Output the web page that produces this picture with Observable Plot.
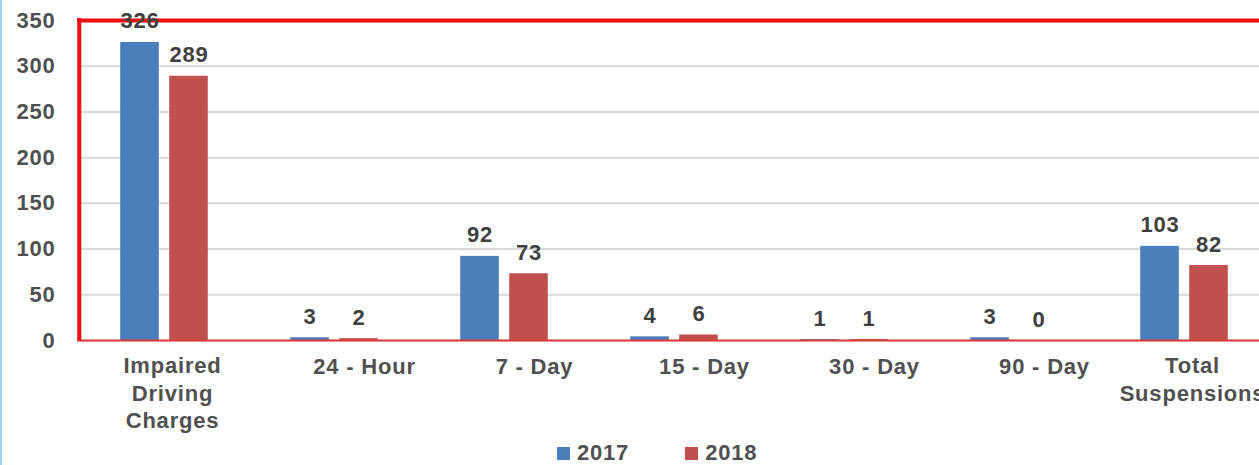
<!DOCTYPE html>
<html>
<head>
<meta charset="utf-8">
<script src="https://cdn.jsdelivr.net/npm/d3@7"></script>
<script src="https://cdn.jsdelivr.net/npm/@observablehq/plot@0.6"></script>
<style>
  html, body { margin: 0; padding: 0; background: #fff; }
  #wrap { position: relative; width: 1259px; height: 465px; overflow: hidden; }
  #edge { position: absolute; left: 0; top: 0; width: 2px; height: 465px; background: #9fd6ec; }
  #legend { position: absolute; left: 557px; top: 441px; height: 24px; display: flex; align-items: center;
            font-family: "Liberation Sans", Arial, sans-serif; font-weight: bold; font-size: 22px;
            letter-spacing: 0.8px; color: #505050; }
  #legend .item { display: flex; align-items: center; }
  #legend .sw { width: 13px; height: 13px; margin-right: 7px; }
</style>
</head>
<body>
<div id="wrap">
  <div id="chart"></div>
  <div id="edge"></div>
  <div id="legend"></div>
</div>
<script>
const categories = ["Impaired Driving Charges", "24 - Hour", "7 - Day", "15 - Day", "30 - Day", "90 - Day", "Total Suspensions"];
const years = ["2017", "2018"];
const values2017 = [326, 3, 92, 4, 1, 3, 103];
const values2018 = [289, 2, 73, 6, 1, 0, 82];
const yTicks = [0, 50, 100, 150, 200, 250, 300, 350];
const colors = {"2017": "#4A7EBB", "2018": "#C0504D"};
const labelLines = {
  "Impaired Driving Charges": "Impaired\nDriving\nCharges",
  "Total Suspensions": "Total\nSuspensions"
};

const data2017 = categories.map((c, i) => ({category: c, year: "2017", value: values2017[i]}));
const data2018 = categories.map((c, i) => ({category: c, year: "2018", value: values2018[i]}));

const barW = 39, gap = 10;
const width = 1259, ml = 77, mr = -11;
const band = (width - mr - ml) / categories.length;
const half = band / 2;

const multi = categories.filter(c => labelLines[c]);
const single = categories.filter(c => !labelLines[c]);

const textColor = "#404040";
const frameRed = "#f01010";

const chart = Plot.plot({
  width, height: 441,
  marginLeft: ml, marginRight: mr, marginTop: 20, marginBottom: 101,
  style: {fontFamily: "'Liberation Sans', Arial, sans-serif", fontSize: "22px", fontWeight: "bold", color: "#505050", letterSpacing: "0.8px", background: "transparent"},
  x: {domain: categories, padding: 0},
  y: {domain: [0, 350]},
  marks: [
    Plot.gridY(yTicks, {stroke: "#d9d9d9", strokeWidth: 2, strokeOpacity: 1}),
    Plot.barY(data2017, {x: "category", y: "value", fill: colors["2017"], insetLeft: half - gap / 2 - barW, insetRight: half + gap / 2}),
    Plot.barY(data2018, {x: "category", y: "value", fill: colors["2018"], insetLeft: half + gap / 2, insetRight: half - gap / 2 - barW}),
    Plot.ruleY([0], {stroke: "#dd3a3a", strokeWidth: 2}),
    Plot.ruleY([350], {stroke: frameRed, strokeWidth: 4}),
    Plot.ruleX([categories[0]], {dx: -half, stroke: frameRed, strokeWidth: 4, insetTop: -2}),
    Plot.text(data2017, {x: "category", y: "value", text: d => String(d.value), dx: -(gap / 2 + barW / 2), dy: -14, lineAnchor: "bottom", fill: textColor}),
    Plot.text(data2018, {x: "category", y: "value", text: d => String(d.value), dx: (gap / 2 + barW / 2), dy: -14, lineAnchor: "bottom", fill: textColor}),
    Plot.axisY(yTicks, {tickSize: 0, tickPadding: 22, label: null}),
    Plot.axisX(single, {tickSize: 0, tickPadding: 18, dx: 30, label: null}),
    Plot.axisX(multi, {tickSize: 0, tickPadding: 18, dx: 8, dy: -5, label: null, lineHeight: 1.25, tickFormat: c => labelLines[c]})
  ]
});
document.getElementById("chart").appendChild(chart);

const legend = document.getElementById("legend");
years.forEach((y, i) => {
  const item = document.createElement("div");
  item.className = "item";
  if (i > 0) item.style.marginLeft = "56px";
  const sw = document.createElement("div");
  sw.className = "sw";
  sw.style.background = colors[y];
  const t = document.createElement("span");
  t.textContent = y;
  item.appendChild(sw);
  item.appendChild(t);
  legend.appendChild(item);
});
</script>
</body>
</html>
